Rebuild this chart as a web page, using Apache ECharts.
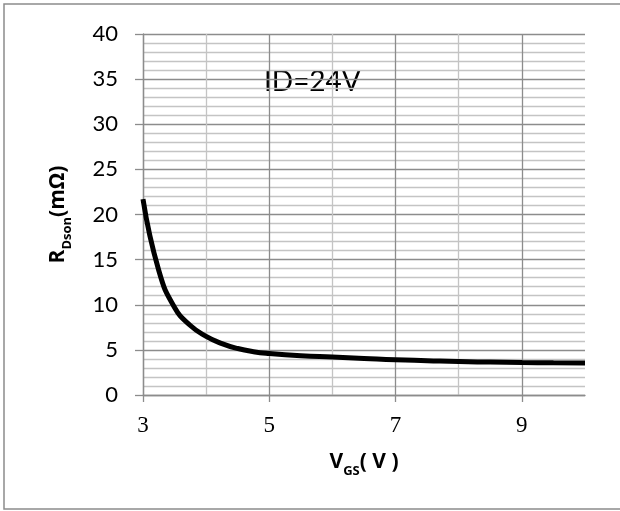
<!DOCTYPE html>
<html>
<head>
<meta charset="utf-8">
<script src="https://cdn.jsdelivr.net/npm/echarts@6/dist/echarts.min.js"></script>
<style>
html,body{margin:0;padding:0;background:#fff;}
#chart{width:620px;height:511px;}
</style>
</head>
<body>
<div id="chart"></div>
<script>
// Data
const vgs = [3.0, 3.25, 3.5, 3.75, 4.0, 4.25, 4.5, 4.75, 5.0, 5.5, 6.0, 6.5, 7.0, 7.5, 8.0, 8.5, 9.0, 9.5, 10.0];
const rdson = [21.7, 13.8, 9.7, 7.7, 6.5, 5.7, 5.15, 4.8, 4.6, 4.35, 4.2, 4.05, 3.9, 3.8, 3.7, 3.65, 3.6, 3.57, 3.55];
const xTickLabels = [3, 5, 7, 9];
const yMin = 0, yMax = 40, yStep = 5;
const annotation = 'ID=24V';

const chart = echarts.init(document.getElementById('chart'));
const major = '#8c8c8c', minor = '#c4c4c4';
const titleFont = 'Open Sans';
const richTitle = {
  a: {fontFamily: titleFont, fontWeight: 'bold', fontSize: 21, color: '#000', lineHeight: 24, verticalAlign: 'bottom'},
  b: {fontFamily: titleFont, fontWeight: 'bold', fontSize: 13, color: '#000', lineHeight: 24, verticalAlign: 'bottom', padding: [0,0,-5,0]}
};
chart.setOption({
  animation: false,
  backgroundColor: '#fff',
  grid: {left: 143, right: 35, top: 34, bottom: 116},
  xAxis: {
    type: 'value', min: 3, max: 10, interval: 2,
    axisLine: {lineStyle: {color: major, width: 1.3}},
    axisTick: {show: true, length: 7, customValues: xTickLabels, lineStyle: {color: major, width: 1.3}},
    axisLabel: {customValues: xTickLabels, color: '#000', fontFamily: 'Liberation Serif', fontSize: 23, margin: 19},
    splitLine: {show: true, lineStyle: {color: major, width: 1.3}},
    minorTick: {show: false, splitNumber: 2},
    minorSplitLine: {show: true, lineStyle: {color: minor, width: 1.3}},
    name: '{a|V}{b|GS}{a|( V )}',
    nameLocation: 'middle', nameGap: 54,
    nameTextStyle: {rich: richTitle}
  },
  yAxis: {
    type: 'value', min: yMin, max: yMax, interval: yStep,
    axisLine: {show: true, lineStyle: {color: major, width: 1.3}},
    axisTick: {show: true, length: 8, lineStyle: {color: major, width: 1.3}},
    axisLabel: {color: '#000', fontFamily: 'Lato', fontSize: 22, margin: 25},
    splitLine: {show: true, lineStyle: {color: major, width: 1.3}},
    minorTick: {show: false, splitNumber: 5},
    minorSplitLine: {show: true, lineStyle: {color: minor, width: 1.3}},
    name: '{a|R}{b|Dson}{a|(mΩ)}',
    nameLocation: 'middle', nameGap: 74, nameRotate: 90,
    nameTextStyle: {rich: richTitle}
  },
  graphic: [
    {type: 'rect', shape: {x: 4, y: 4, width: 630, height: 505}, style: {fill: 'none', stroke: '#8c8c8c', lineWidth: 1.5}, silent: true},
    {type: 'text', x: 264, y: 82, style: {text: annotation, font: '28px Lato', fill: '#000', textVerticalAlign: 'middle'}}
  ],
  series: [{
    type: 'line', smooth: 0.5, symbol: 'none',
    data: vgs.map((v, i) => [v, rdson[i]]),
    lineStyle: {color: '#000', width: 5}
  }]
});
</script>
</body>
</html>
